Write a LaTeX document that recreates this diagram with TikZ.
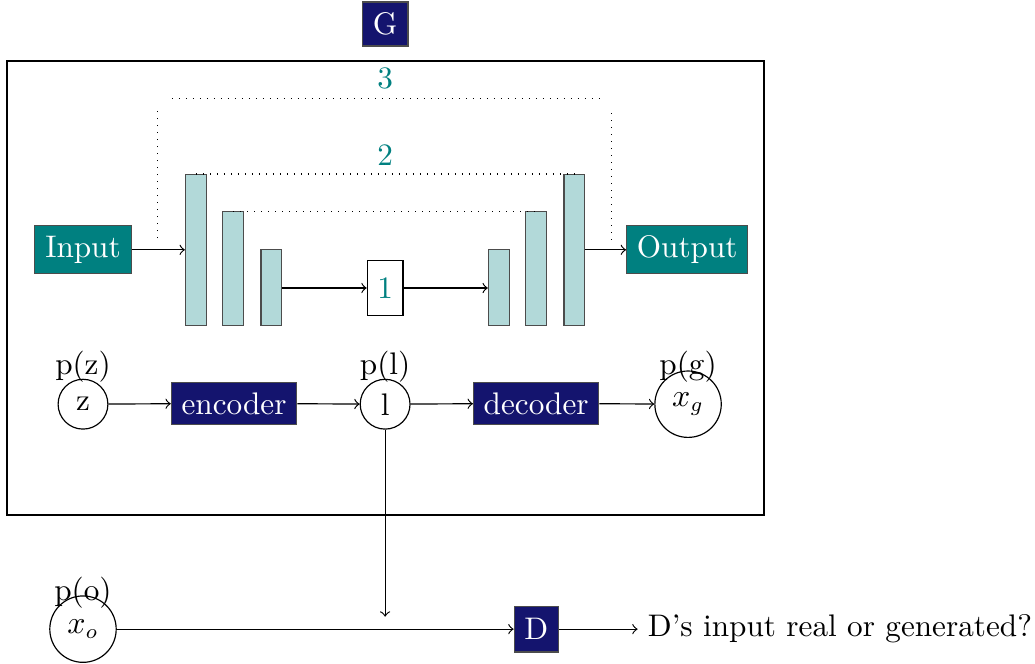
\documentclass[tikz,border=0pt]{standalone}
\usepackage{amsmath}
\usepackage{xcolor}
\usepackage{tikz}
\usetikzlibrary{positioning}

\definecolor{gnavy}{RGB}{20,20,110}
\definecolor{gteal}{RGB}{0,128,128}

\tikzset{
  block/.style={fill=gnavy, draw=black!70, text=white},
  io/.style={fill=gteal, draw=black!70, text=white, minimum height=0.58cm},
  bar/.style={fill=gteal!30, draw=black!70, minimum width=0.25cm, anchor=south, inner sep=0pt},
  var/.style={circle, draw, minimum size=0.6cm, inner sep=1pt},
  skip/.style={dotted},
  num/.style={text=gteal},
  flow/.style={->},
}

\begin{document}
\begin{tikzpicture}[font=\fontsize{10.7}{12.8}\selectfont]
      \useasboundingbox (0,0) rectangle (12.47,-8.0);
      % Define nodes
      \node[block, minimum width=0.55cm, minimum height=0.53cm] (G) at (4.64,-0.29) {G};
      \draw (0.084,-0.735) rectangle (9.205,-6.205);

      \node[io, minimum width=1.16cm] (input) at (1.0,-3.01) {Input};
      \node[io, minimum width=1.46cm] (output) at (8.28,-3.01) {Output};

      \node[bar, minimum height=1.82cm] (e1) at (2.36,-3.93) {};
      \node[bar, minimum height=1.37cm] (e2) at (2.81,-3.93) {};
      \node[bar, minimum height=0.92cm] (e3) at (3.27,-3.93) {};
      \node[draw, num, minimum width=0.43cm, minimum height=0.67cm] (bottleneck) at (4.64,-3.47) {1};
      \node[bar, minimum height=0.92cm] (d3) at (6.01,-3.93) {};
      \node[bar, minimum height=1.37cm] (d2) at (6.46,-3.93) {};
      \node[bar, minimum height=1.82cm] (d1) at (6.92,-3.93) {};

      \node[var] (z) at (1.0,-4.87) {z};
      \node[block, minimum width=1.51cm, minimum height=0.51cm] (encoder) at (2.82,-4.86) {encoder};
      \node[var] (l) at (4.64,-4.87) {l};
      \node[block, minimum width=1.51cm, minimum height=0.51cm] (decoder) at (6.46,-4.86) {decoder};
      \node[var, minimum size=0.8cm] (xg) at (8.29,-4.87) {$x_g$};
      \node (pz) at ([yshift=0.45cm]z.center) {p(z)};
      \node (pl) at ([yshift=0.45cm]l.center) {p(l)};
      \node (pg) at ([yshift=0.45cm]xg.center) {p(g)};

      \node[var, minimum size=0.8cm] (xo) at (1.0,-7.58) {$x_o$};
      \node (po) at ([yshift=0.44cm]xo.center) {p(o)};
      \node[block, minimum width=0.53cm, minimum height=0.55cm] (D) at (6.46,-7.58) {D};
      \node[right=0.95cm of D] (answer) {D's input real or generated?};
      \coordinate (lend) at (4.64,-7.43);

      % Skip connections
      \coordinate (s3l) at (1.90,-2.87);
      \coordinate (s3r) at (7.37,-2.89);
      \draw[skip] (s3l) -- (1.90,-1.30);
      \draw[skip] (2.07,-1.19) -- (7.25,-1.19);
      \draw[skip] (s3r) -- (7.37,-1.30);
      \node[num] (n3) at (4.64,-0.94) {3};
      \draw[skip] (e1.north) -- (d1.north);
      \node[num] (n2) at (4.64,-1.87) {2};
      \draw[skip] (e2.north) -- (d2.north);

      % Connect the nodes
      \draw[flow] (input) -- (input -| e1.west);
      \draw[flow] (output -| d1.east) -- (output);
      \draw[flow] (bottleneck -| e3.east) -- (bottleneck);
      \draw[flow] (bottleneck) -- (bottleneck -| d3.west);
      \draw[flow] (z) -- (encoder);
      \draw[flow] (encoder) -- (l);
      \draw[flow] (l) -- (decoder);
      \draw[flow] (decoder) -- (xg);
      \draw[flow] (l) -- (lend);
      \draw[flow] (xo) -- (D);
      \draw[flow] (D) -- (answer);
\end{tikzpicture}
\end{document}
